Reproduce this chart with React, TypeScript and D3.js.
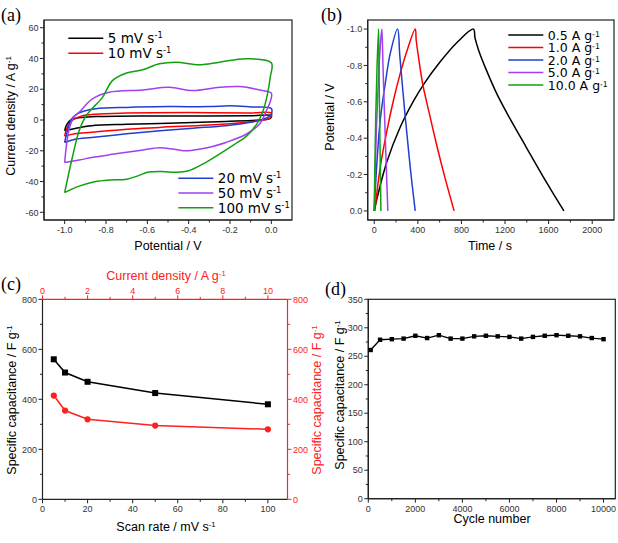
import * as d3 from "d3";
import React from "react";

// ---- data ----
// (a) cyclic voltammetry loops, [potential V, current density A/g]
const cvLabels = ["5", "10", "20", "50", "100"];
const cvColors = ["#000000", "#ff0000", "#1f3fd0", "#a040f0", "#10a010"];
const cv5: [number, number][] = [
  [-1, -7], [-0.99, -3], [-0.97, 0], [-0.93, 1.5], [-0.85, 2.2], [-0.6, 2.6], [-0.3, 2.6], [-0.1, 2.7], [0, 2.8],
  [-0.005, 1], [-0.06, 0], [-0.22, -0.9], [-0.54, -2.2], [-0.7, -2.8], [-0.87, -3.7], [-0.95, -5.5], [-1, -7],
];
const cv10: [number, number][] = [
  [-1, -10.5], [-0.985, -4], [-0.96, 0], [-0.92, 2.5], [-0.85, 3.8], [-0.7, 4.5], [-0.4, 4.8], [-0.1, 4.6], [0, 4.5],
  [-0.005, 1.5], [-0.06, -0.5], [-0.22, -2.6], [-0.54, -4.8], [-0.7, -6], [-0.87, -8], [-0.95, -9], [-1, -10.5],
];
const cv20: [number, number][] = [
  [-1, -14.6], [-0.985, -6], [-0.97, 0], [-0.94, 4], [-0.9, 6], [-0.85, 7.3], [-0.7, 8.2], [-0.5, 8.7], [-0.3, 8.7],
  [-0.2, 9.2], [-0.1, 8.5], [0, 7.5], [-0.003, 3], [-0.03, 1], [-0.1, -1.5], [-0.22, -3.7], [-0.38, -5.3],
  [-0.54, -7], [-0.7, -9], [-0.87, -11.3], [-0.95, -12.5], [-1, -14.6],
];
const cv50: [number, number][] = [
  [-1, -27.6], [-0.98, -7], [-0.955, 2], [-0.93, 5], [-0.866, 13.7], [-0.785, 18], [-0.623, 19.5], [-0.494, 21.3],
  [-0.38, 19.1], [-0.25, 21.3], [-0.154, 21.7], [-0.057, 19.5], [0, 17.4], [-0.005, 12], [-0.024, 6], [-0.057, -2.6],
  [-0.12, -9.1], [-0.22, -14.6], [-0.28, -17], [-0.35, -19], [-0.41, -20], [-0.47, -19], [-0.54, -18], [-0.62, -19.5],
  [-0.7, -21], [-0.78, -22.5], [-0.87, -24.4], [-0.93, -26], [-1, -27.6],
];
const cv100: [number, number][] = [
  [-1, -47.2], [-0.963, -24.4], [-0.93, -7], [-0.9, 2], [-0.87, 7], [-0.817, 14.7], [-0.769, 25.6], [-0.704, 30.4],
  [-0.623, 32.6], [-0.542, 36.5], [-0.461, 37.6], [-0.348, 35.9], [-0.25, 37.6], [-0.121, 39.8], [0, 37.2],
  [-0.005, 28], [-0.02, 16], [-0.04, 6], [-0.07, -2.5], [-0.12, -10.5], [-0.18, -16], [-0.25, -22], [-0.33, -28.5],
  [-0.4, -33], [-0.46, -34], [-0.53, -33.5], [-0.6, -34], [-0.64, -36], [-0.7, -38.5], [-0.78, -39], [-0.85, -40],
  [-0.93, -43], [-1, -47.2],
];
const cvSeries = [cv5, cv10, cv20, cv50, cv100];

// (b) galvanostatic charge/discharge, [time s, potential V]
const gcdLabels = ["0.5", "1.0", "2.0", "5.0", "10.0"];
const gcdColors = ["#000000", "#ff0000", "#1f3fd0", "#a040f0", "#10a010"];
const gcd05: [number, number][] = [
  [0, 0], [30, -0.08], [116, -0.27], [238, -0.46], [361, -0.605], [452, -0.695], [605, -0.82], [757, -0.925], [910, -1],
  [925, -0.95], [960, -0.88], [1032, -0.77], [1124, -0.645], [1243, -0.51], [1395, -0.35], [1548, -0.19], [1740, 0],
];
const gcd1: [number, number][] = [
  [5, 0], [55, -0.24], [116, -0.44], [177, -0.61], [238, -0.755], [300, -0.88], [376, -1],
  [385, -0.94], [410, -0.83], [447, -0.69], [500, -0.55], [574, -0.36], [650, -0.18], [733, 0],
];
const gcd2: [number, number][] = [
  [0, 0], [25, -0.27], [55, -0.5], [101, -0.7], [147, -0.866], [214, -1],
  [235, -0.85], [284, -0.52], [330, -0.24], [376, 0],
];
const gcd5: [number, number][] = [
  [0, 0], [20, -0.45], [40, -0.75], [55, -0.9], [70, -1], [80, -0.8], [95, -0.52], [110, -0.25], [125, 0],
];
const gcd10: [number, number][] = [
  [0, 0], [10, -0.4], [25, -0.78], [40, -1], [45, -0.72], [53, -0.36], [61, 0],
];
const gcdSeries = [gcd05, gcd1, gcd2, gcd5, gcd10];

// (c) rate capability
const scanRates = [5, 10, 20, 50, 100];
const capByScan = [560, 507, 470, 425, 380];
const currentDensities = [0.5, 1, 2, 5, 10];
const capByCurrent = [415, 355, 320, 295, 280];

// (d) cycling stability
const cycles = [100, 500, 1000, 1500, 2000, 2500, 3000, 3500, 4000, 4500, 5000, 5500, 6000, 6500, 7000, 7500, 8000, 8500, 9000, 9500, 10000];
const cycleCap = [261, 279, 280, 281, 286, 282, 287, 281, 281, 285, 286, 285, 284, 281, 284, 286, 287, 286, 285, 282, 280];

// ---- helpers ----
const FONT = "'Liberation Sans', Arial, sans-serif";
const LEGEND_FONT = "'DejaVu Sans', sans-serif";
const RED = "#ff2020";

const fmt1 = (v: number) => (Math.abs(v) < 1e-9 ? "0.0" : v.toFixed(1));
const fmt0 = (v: number) => String(Math.round(v));

type Orient = "left" | "right" | "top" | "bottom";

function Axis({ scale, orient, at, major, minor, format, color = "#222", labelColor = "#333" }: {
  scale: d3.ScaleLinear<number, number>; orient: Orient; at: number; major: number[]; minor: number[];
  format: (v: number) => string; color?: string; labelColor?: string;
}) {
  const vertical = orient === "left" || orient === "right";
  const sign = orient === "left" || orient === "top" ? -1 : 1;
  const [r0, r1] = scale.range();
  return (
    <g>
      {vertical
        ? <line x1={at} x2={at} y1={r0} y2={r1} stroke={color} strokeWidth={1.2} />
        : <line y1={at} y2={at} x1={r0} x2={r1} stroke={color} strokeWidth={1.2} />}
      {minor.map((v, i) => {
        const p = scale(v);
        return vertical
          ? <line key={"m" + i} x1={at} x2={at + sign * 2.5} y1={p} y2={p} stroke={color} />
          : <line key={"m" + i} y1={at} y2={at + sign * 2.5} x1={p} x2={p} stroke={color} />;
      })}
      {major.map((v, i) => {
        const p = scale(v);
        return (
          <g key={"M" + i}>
            {vertical
              ? <line x1={at} x2={at + sign * 4} y1={p} y2={p} stroke={color} />
              : <line y1={at} y2={at + sign * 4} x1={p} x2={p} stroke={color} />}
            <text
              x={vertical ? at + sign * 5.5 : p}
              y={vertical ? p + 3.2 : orient === "bottom" ? at + 12.8 : at - 5.5}
              textAnchor={vertical ? (orient === "left" ? "end" : "start") : "middle"}
              fontSize={9}
              fill={labelColor}
            >
              {format(v)}
            </text>
          </g>
        );
      })}
    </g>
  );
}

function Sup({ base, sup, supDy = "-0.55em", ...rest }: any) {
  return (
    <text {...rest}>
      {base}
      <tspan fontSize="0.62em" dy={supDy}>{sup}</tspan>
    </text>
  );
}

function LegendRow({ x, y, color, label, fontSize = 13.5, supDy }: { x: number; y: number; color: string; label: string; fontSize?: number; supDy?: string }) {
  return (
    <g>
      <line x1={x} x2={x + 35} y1={y} y2={y} stroke={color} strokeWidth={1.6} />
      <Sup x={x + 39.5} y={y + 4.8} fontSize={fontSize} fontFamily={LEGEND_FONT} fill="#000" base={label} sup="-1" supDy={supDy} />
    </g>
  );
}

const range = (a: number, b: number, s: number) => d3.range(a, b + s / 2, s);

export default function App() {
  // panel a
  const ax = d3.scaleLinear().domain([-1.1, 0.1]).range([44, 292]);
  const ay = d3.scaleLinear().domain([-65, 65]).range([220, 20]);
  const aLine = d3.line<[number, number]>().x((d) => ax(d[0])).y((d) => ay(d[1])).curve(d3.curveCatmullRom.alpha(0.5));

  // panel b
  const bx = d3.scaleLinear().domain([-60, 2200]).range([367.7, 614]);
  const by = d3.scaleLinear().domain([0.05, -1.05]).range([220, 20]);
  const bLine = d3.line<[number, number]>().x((d) => bx(d[0])).y((d) => by(d[1])).curve(d3.curveCatmullRom.alpha(0.5));

  // panel c
  const cx = d3.scaleLinear().domain([0, 108.7]).range([42.5, 287.5]);
  const cxTop = d3.scaleLinear().domain([0, 10.87]).range([42.5, 287.5]);
  const cy = d3.scaleLinear().domain([0, 800]).range([499.3, 299.3]);
  const cLineScan = d3.line<number>().x((_, i) => cx(scanRates[i])).y((d) => cy(d));
  const cLineCur = d3.line<number>().x((_, i) => cxTop(currentDensities[i])).y((d) => cy(d));

  // panel d
  const dx = d3.scaleLinear().domain([0, 10500]).range([368.3, 615.3]);
  const dy = d3.scaleLinear().domain([0, 350]).range([498.7, 299.3]);
  const dLine = d3.line<number>().x((_, i) => dx(cycles[i])).y((d) => dy(d));

  const panelLabel = { fontFamily: "'Liberation Serif', 'Times New Roman', serif", fontSize: 18, fill: "#000" };

  return (
    <svg width={618} height={543} style={{ position: "absolute", left: 0, top: 0, background: "#fff" }} fontFamily={FONT}>
      <rect width={618} height={543} fill="#fff" />

      {/* ---------- (a) ---------- */}
      <text x={1} y={21} {...panelLabel}>(a)</text>
      <rect x={44} y={20} width={248} height={200} fill="none" stroke="#222" strokeWidth={1.2} />
      <Axis scale={ay} orient="left" at={44} major={range(-60, 60, 20)} minor={range(-50, 50, 20)} format={fmt0} />
      <Axis scale={ax} orient="bottom" at={220} major={range(-1, 0, 0.2)} minor={range(-0.9, -0.1, 0.2)} format={fmt1} />
      {cvSeries.map((s, i) => (
        <path key={i} d={aLine(s) || ""} fill="none" stroke={cvColors[i]} strokeWidth={1.5} />
      ))}
      {[0, 1].map((i) => (
        <LegendRow key={i} x={68.3} y={38.3 + i * 15} color={cvColors[i]} label={cvLabels[i] + " mV s"} />
      ))}
      {[2, 3, 4].map((i) => (
        <LegendRow key={i} x={178.3} y={178.3 + (i - 2) * 14.7} color={cvColors[i]} label={cvLabels[i] + " mV s"} />
      ))}
      <text x={168} y={250} textAnchor="middle" fontSize={12.5}>Potential / V</text>
      <Sup transform="translate(15,116) rotate(-90)" textAnchor="middle" fontSize={12.5} base="Current density / A g" sup="-1" />

      {/* ---------- (b) ---------- */}
      <text x={321} y={21} {...panelLabel}>(b)</text>
      <rect x={367.7} y={20} width={246.3} height={200} fill="none" stroke="#222" strokeWidth={1.2} />
      <Axis scale={by} orient="left" at={367.7} major={range(-1, 0, 0.2).reverse()} minor={range(-0.9, -0.1, 0.2)} format={fmt1} />
      <Axis scale={bx} orient="bottom" at={220} major={range(0, 2000, 400)} minor={range(200, 1800, 400)} format={fmt0} />
      {gcdSeries.map((s, i) => (
        <path key={i} d={bLine(s) || ""} fill="none" stroke={gcdColors[i]} strokeWidth={1.5} />
      ))}
      {gcdSeries.map((_, i) => (
        <LegendRow key={i} x={508.3} y={35 + i * 12.5} fontSize={12.5} supDy="-0.42em" color={gcdColors[i]} label={gcdLabels[i] + " A g"} />
      ))}
      <text x={490} y={250} textAnchor="middle" fontSize={12.5}>Time / s</text>
      <text transform="translate(334,117) rotate(-90)" textAnchor="middle" fontSize={12.5}>Potential / V</text>

      {/* ---------- (c) ---------- */}
      <text x={1} y={290} {...panelLabel}>(c)</text>
      <Axis scale={cy} orient="left" at={42.5} major={range(0, 800, 200)} minor={range(100, 700, 200)} format={fmt0} />
      <Axis scale={cx} orient="bottom" at={499.3} major={range(0, 100, 20)} minor={range(10, 90, 20)} format={fmt0} />
      <Axis scale={cxTop} orient="top" at={299.3} major={range(0, 10, 2)} minor={range(1, 9, 2)} format={fmt0} color={RED} labelColor={RED} />
      <Axis scale={cy} orient="right" at={287.5} major={range(0, 800, 200)} minor={range(100, 700, 200)} format={fmt0} color={RED} labelColor={RED} />
      <path d={cLineScan(capByScan) || ""} fill="none" stroke="#000" strokeWidth={1.5} />
      {capByScan.map((v, i) => (
        <rect key={i} x={cx(scanRates[i]) - 3} y={cy(v) - 3} width={6} height={6} fill="#000" />
      ))}
      <path d={cLineCur(capByCurrent) || ""} fill="none" stroke={RED} strokeWidth={1.5} />
      {capByCurrent.map((v, i) => (
        <circle key={i} cx={cxTop(currentDensities[i])} cy={cy(v)} r={3.1} fill={RED} />
      ))}
      <Sup x={166} y={531} textAnchor="middle" fontSize={12.5} base="Scan rate / mV s" sup="-1" />
      <Sup x={166} y={280} textAnchor="middle" fontSize={12.5} fill={RED} base="Current density / A g" sup="-1" />
      <Sup transform="translate(16,400) rotate(-90)" textAnchor="middle" fontSize={12.5} base="Specific capacitance / F g" sup="-1" />
      <Sup transform="translate(321,400) rotate(-90)" textAnchor="middle" fontSize={12.5} fill={RED} base="Specific capacitance / F g" sup="-1" />

      {/* ---------- (d) ---------- */}
      <text x={325} y={295} {...panelLabel}>(d)</text>
      <rect x={368.3} y={299.3} width={247} height={199.4} fill="none" stroke="#222" strokeWidth={1.2} />
      <Axis scale={dy} orient="left" at={368.3} major={range(0, 350, 50)} minor={range(25, 325, 50)} format={fmt0} />
      <Axis scale={dx} orient="bottom" at={498.7} major={range(0, 10000, 2000)} minor={range(1000, 9000, 2000)} format={fmt0} />
      <path d={dLine(cycleCap) || ""} fill="none" stroke="#000" strokeWidth={1.3} />
      {cycleCap.map((v, i) => (
        <rect key={i} x={dx(cycles[i]) - 2.2} y={dy(v) - 2.2} width={4.4} height={4.4} fill="#000" />
      ))}
      <text x={492} y={523} textAnchor="middle" fontSize={12.5}>Cycle number</text>
      <Sup transform="translate(344,395) rotate(-90)" textAnchor="middle" fontSize={12.5} base="Specific capacitance / F g" sup="-1" />
    </svg>
  );
}
